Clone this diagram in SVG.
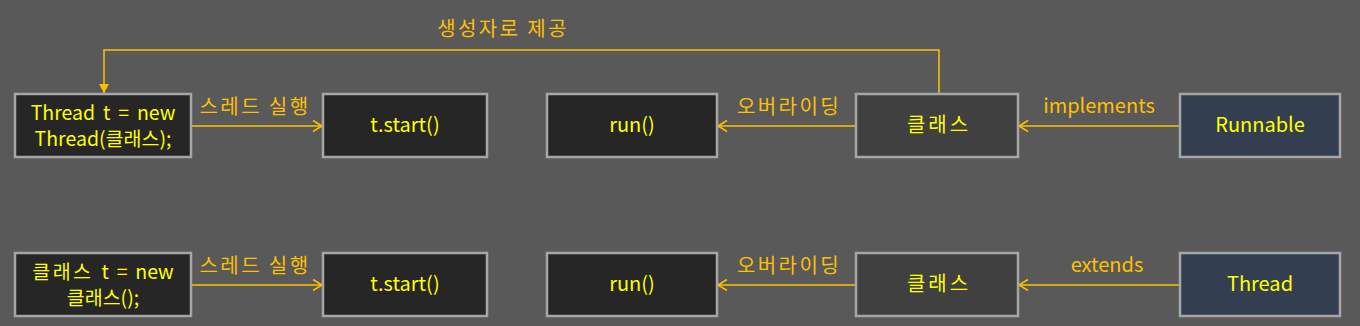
<svg xmlns="http://www.w3.org/2000/svg" width="1360" height="326" viewBox="0 0 1360 326">
<defs>
<style>
.box{stroke:#A6A6A6;stroke-width:2.5}
.dark{fill:#262626}
.mid{fill:#404040}
.blue{fill:#333F50}
.nt{font-family:"Noto Sans CJK KR","Noto Sans",sans-serif;font-size:20px;fill:#FFFF00;text-anchor:middle}
.two{font-size:19.5px}
.lb{font-family:"Noto Sans CJK KR","Noto Sans",sans-serif;font-size:20px;fill:#FFC000;text-anchor:middle}
.ko{letter-spacing:2.4px}
.ln{fill:none;stroke:#FFC000;stroke-width:1.5}
</style>
<marker id="open" markerUnits="userSpaceOnUse" markerWidth="14" markerHeight="14" viewBox="0 0 14 14" refX="11" refY="7" orient="auto">
<path d="M2,1.5 L11,7 L2,12.5" fill="none" stroke="#FFC000" stroke-width="1.5"/>
</marker>
<marker id="solid" markerUnits="userSpaceOnUse" markerWidth="12" markerHeight="12" viewBox="0 0 12 12" refX="10" refY="6" orient="auto">
<path d="M1,1 L10,6 L1,11 Z" fill="#FFC000"/>
</marker>
</defs>
<rect width="1360" height="326" fill="#595959"/>

<g id="connectors">
<path class="ln" d="M191,126 H322" marker-end="url(#open)"/>
<path class="ln" d="M856,126 H718" marker-end="url(#open)"/>
<path class="ln" d="M1180,126 H1019" marker-end="url(#open)"/>
<path class="ln" d="M939,94 V50 H104 V93" marker-end="url(#solid)"/>
<path class="ln" d="M191,285 H322" marker-end="url(#open)"/>
<path class="ln" d="M856,285 H718" marker-end="url(#open)"/>
<path class="ln" d="M1180,285 H1019" marker-end="url(#open)"/>
<text class="lb ko" x="255" y="114">스레드 실행</text>
<text class="lb ko" x="789" y="114">오버라이딩</text>
<text class="lb" x="1099" y="113">implements</text>
<text class="lb ko" x="503" y="36">생성자로 제공</text>
<text class="lb ko" x="255" y="273">스레드 실행</text>
<text class="lb ko" x="789" y="273">오버라이딩</text>
<text class="lb" x="1107" y="272">extends</text>
</g>

<g id="n1">
<rect class="box dark" x="15" y="94" width="176" height="63"/>
<text class="nt two"><tspan x="103" y="120" word-spacing="3.5">Thread t = new</tspan><tspan x="103" y="146">Thread(클래스);</tspan></text>
</g>
<g id="n2">
<rect class="box dark" x="323" y="94" width="164" height="63"/>
<text class="nt" x="405" y="132">t.start()</text>
</g>
<g id="n3">
<rect class="box dark" x="547" y="94" width="170" height="63"/>
<text class="nt" x="632" y="132">run()</text>
</g>
<g id="n4">
<rect class="box mid" x="856" y="94" width="162" height="63"/>
<text class="nt" x="939" y="132" letter-spacing="3">클래스</text>
</g>
<g id="n5">
<rect class="box blue" x="1180" y="94" width="160" height="63"/>
<text class="nt" x="1260" y="132">Runnable</text>
</g>

<g id="m1">
<rect class="box dark" x="15" y="253" width="176" height="63"/>
<text class="nt two"><tspan x="103" y="279" word-spacing="3.5"><tspan letter-spacing="2.5">클래스</tspan> t = new</tspan><tspan x="103" y="305">클래스();</tspan></text>
</g>
<g id="m2">
<rect class="box dark" x="323" y="253" width="164" height="63"/>
<text class="nt" x="405" y="291">t.start()</text>
</g>
<g id="m3">
<rect class="box dark" x="547" y="253" width="170" height="63"/>
<text class="nt" x="632" y="291">run()</text>
</g>
<g id="m4">
<rect class="box mid" x="856" y="253" width="162" height="63"/>
<text class="nt" x="939" y="291" letter-spacing="3">클래스</text>
</g>
<g id="m5">
<rect class="box blue" x="1180" y="253" width="160" height="63"/>
<text class="nt" x="1260" y="291">Thread</text>
</g>
</svg>
